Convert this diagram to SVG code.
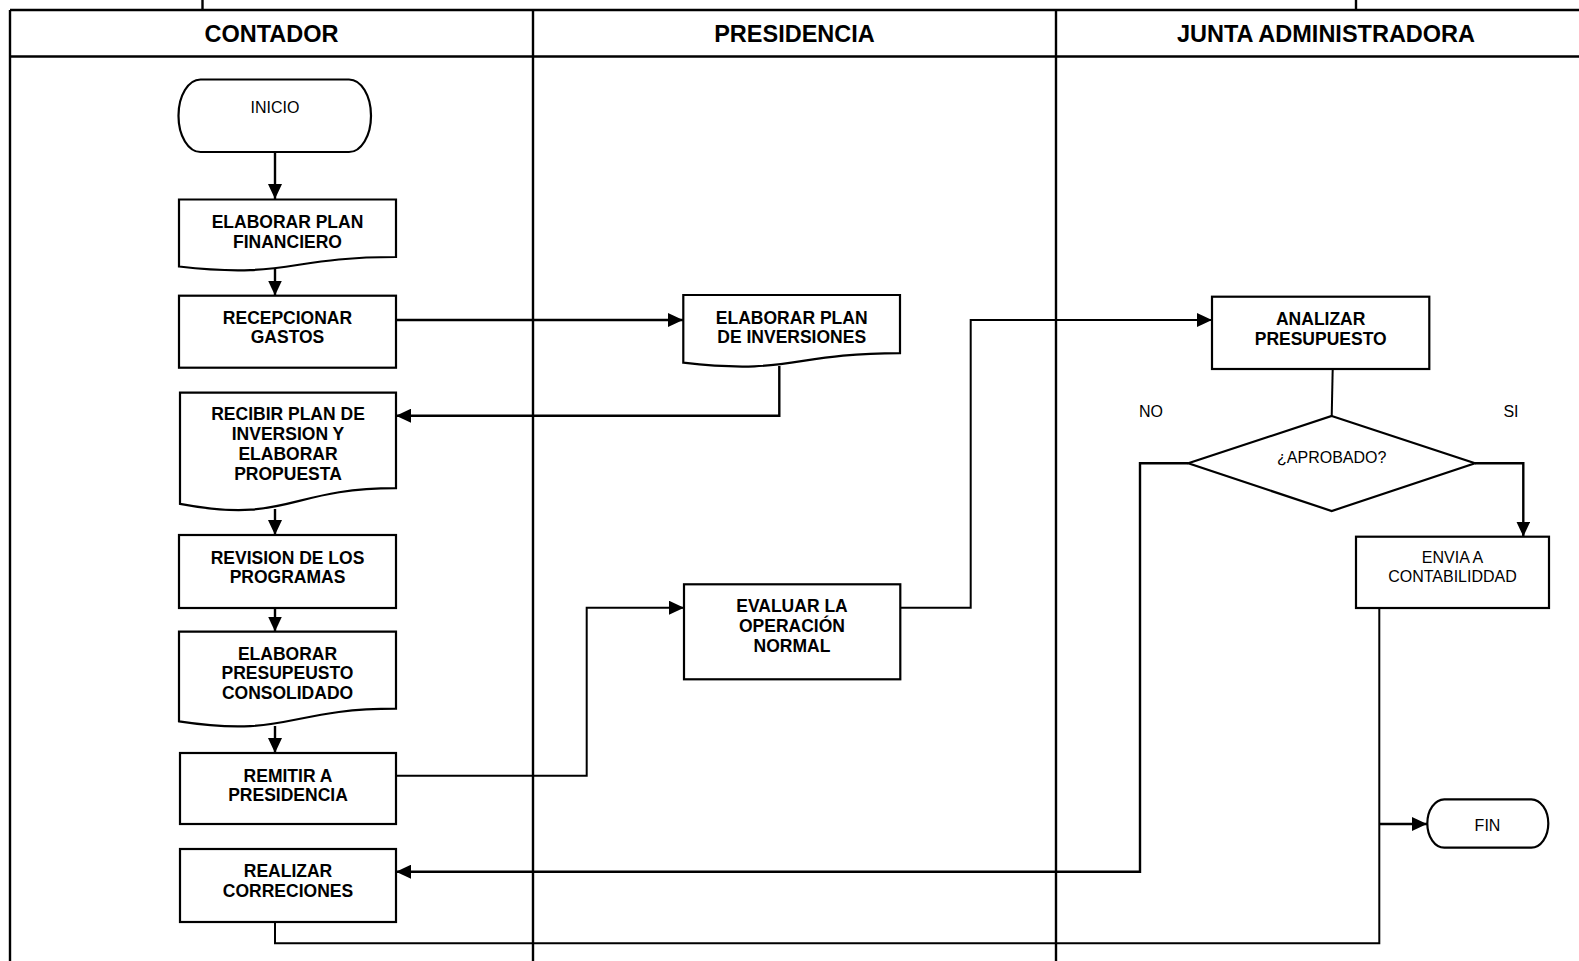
<svg xmlns="http://www.w3.org/2000/svg" width="1579" height="961" viewBox="0 0 1579 961">
<style>
.lane{stroke:#000;stroke-width:2.4;fill:none}
.shape{fill:#fff;stroke:#000;stroke-width:2.2}
.conn{fill:none;stroke:#000;stroke-width:2.4}
.thin{fill:none;stroke:#000;stroke-width:2}
.hdr{font-family:"Liberation Sans",Arial,sans-serif;font-weight:bold;font-size:23.5px;text-anchor:middle;fill:#000}
.b{font-family:"Liberation Sans",Arial,sans-serif;font-weight:bold;font-size:17.5px;text-anchor:middle;fill:#000}
.r{font-family:"Liberation Sans",Arial,sans-serif;font-size:16px;text-anchor:middle;fill:#000}
</style>
<defs>
<marker id="arr" viewBox="0 0 15 14" refX="15" refY="7" markerWidth="15" markerHeight="14" orient="auto" markerUnits="userSpaceOnUse">
<path d="M0,0 L15,7 L0,14 Z" fill="#000"/>
</marker>
</defs>
<rect x="0" y="0" width="1579" height="961" fill="#fff"/>
<g id="lanes">
<line class="lane" x1="10" y1="10" x2="1579" y2="10"/>
<line class="lane" x1="10" y1="56.5" x2="1579" y2="56.5"/>
<line class="lane" x1="10" y1="10" x2="10" y2="961"/>
<line class="lane" x1="533" y1="10" x2="533" y2="961"/>
<line class="lane" x1="1056" y1="10" x2="1056" y2="961"/>
<line class="lane" x1="202.5" y1="0" x2="202.5" y2="10"/>
<line class="lane" x1="1356" y1="0" x2="1356" y2="10"/>
<text class="hdr" x="271.5" y="41.7">CONTADOR</text>
<text class="hdr" x="794.5" y="41.7">PRESIDENCIA</text>
<text class="hdr" x="1326" y="41.7">JUNTA ADMINISTRADORA</text>
</g>
<g id="connectors">
<path class="conn" d="M275,152 V199" marker-end="url(#arr)"/>
<path class="conn" d="M275,269 V295.5" marker-end="url(#arr)"/>
<path class="conn" d="M396,320 H683" marker-end="url(#arr)"/>
<path class="conn" d="M779.3,366 V415.7 H396" marker-end="url(#arr)"/>
<path class="conn" d="M275,509 V535" marker-end="url(#arr)"/>
<path class="conn" d="M275,608 V631.5" marker-end="url(#arr)"/>
<path class="conn" d="M275,726 V753" marker-end="url(#arr)"/>
<path class="thin" d="M396,775.7 H586.7 V607.7 H684" marker-end="url(#arr)"/>
<path class="thin" d="M900,607.7 H970.7 V320 H1212" marker-end="url(#arr)"/>
<path class="thin" d="M1332.7,369 L1331.7,416"/>
<path class="conn" d="M1188.3,463.3 H1140 V871.7 H396" marker-end="url(#arr)"/>
<path class="conn" d="M1475,463.3 H1523.3 V536.5" marker-end="url(#arr)"/>
<path class="thin" d="M275,922 V943.3 H1379.3 V608"/>
<path class="conn" d="M1379.3,824 H1427" marker-end="url(#arr)"/>
</g>
<g id="inicio">
<rect class="shape" x="178.5" y="79.5" width="192.5" height="72.5" rx="22" ry="36"/>
<text class="r" x="275" y="113.4">INICIO</text>
</g>
<g id="elaborar-plan-financiero">
<path class="shape" d="M179,199.5 H396 V257 C287.5,257 287.5,279 179,266.5 Z"/>
<text class="b" x="287.5" y="228">ELABORAR PLAN</text>
<text class="b" x="287.5" y="248">FINANCIERO</text>
</g>
<g id="recepcionar-gastos">
<rect class="shape" x="179" y="295.7" width="217" height="72"/>
<text class="b" x="287.5" y="323.5">RECEPCIONAR</text>
<text class="b" x="287.5" y="343">GASTOS</text>
</g>
<g id="recibir-plan">
<path class="shape" d="M180,392.7 H396 V488.1 C288,488.1 288,524.4 180,503.8 Z"/>
<text class="b" x="288" y="420.3">RECIBIR PLAN DE</text>
<text class="b" x="288" y="440.3">INVERSION Y</text>
<text class="b" x="288" y="460.3">ELABORAR</text>
<text class="b" x="288" y="480.3">PROPUESTA</text>
</g>
<g id="revision-programas">
<rect class="shape" x="179" y="535" width="217" height="73"/>
<text class="b" x="287.5" y="563.5">REVISION DE LOS</text>
<text class="b" x="287.5" y="583">PROGRAMAS</text>
</g>
<g id="elaborar-presupuesto">
<path class="shape" d="M179,631.7 H396 V708.7 C287.5,708.7 287.5,738 179,721.4 Z"/>
<text class="b" x="287.5" y="659.6">ELABORAR</text>
<text class="b" x="287.5" y="679.3">PRESUPEUSTO</text>
<text class="b" x="287.5" y="699">CONSOLIDADO</text>
</g>
<g id="remitir-presidencia">
<rect class="shape" x="180" y="753" width="216" height="71"/>
<text class="b" x="288" y="781.6">REMITIR A</text>
<text class="b" x="288" y="801">PRESIDENCIA</text>
</g>
<g id="realizar-correciones">
<rect class="shape" x="180" y="849" width="216" height="73"/>
<text class="b" x="288" y="877.3">REALIZAR</text>
<text class="b" x="288" y="897">CORRECIONES</text>
</g>
<g id="elaborar-plan-inversiones">
<path class="shape" d="M683.3,295 H900 V353.1 C791.7,353.1 791.7,375.3 683.3,362.7 Z"/>
<text class="b" x="791.7" y="323.6">ELABORAR PLAN</text>
<text class="b" x="791.7" y="343">DE INVERSIONES</text>
</g>
<g id="evaluar-operacion">
<rect class="shape" x="684" y="584.3" width="216.3" height="95"/>
<text class="b" x="792" y="612.3">EVALUAR LA</text>
<text class="b" x="792" y="632.3">OPERACIÓN</text>
<text class="b" x="792" y="652.3">NORMAL</text>
</g>
<g id="analizar-presupuesto">
<rect class="shape" x="1212" y="296.7" width="217.3" height="72.3"/>
<text class="b" x="1320.7" y="324.6">ANALIZAR</text>
<text class="b" x="1320.7" y="345">PRESUPUESTO</text>
</g>
<g id="aprobado">
<path class="shape" d="M1331.7,416 L1475,463.3 L1331.7,511 L1188.3,463.3 Z"/>
<text class="r" x="1331.7" y="462.5">¿APROBADO?</text>
<text class="r" x="1151" y="416.7">NO</text>
<text class="r" x="1511" y="416.7">SI</text>
</g>
<g id="envia-contabilidad">
<rect class="shape" x="1356" y="536.7" width="193" height="71.3"/>
<text class="r" x="1452.5" y="563.3">ENVIA A</text>
<text class="r" x="1452.5" y="581.7">CONTABILIDDAD</text>
</g>
<g id="fin">
<rect class="shape" x="1427.3" y="799.3" width="121" height="48.4" rx="17" ry="24.2"/>
<text class="r" x="1487.5" y="830.7">FIN</text>
</g>
</svg>
